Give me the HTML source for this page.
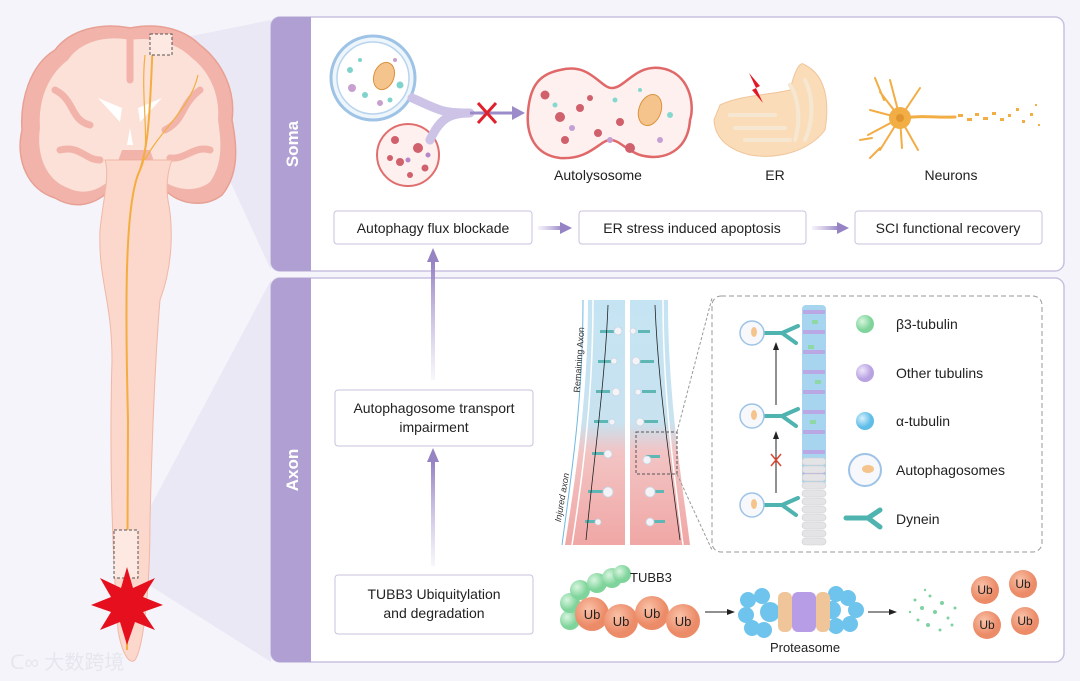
<!DOCTYPE html>
<html><head><meta charset="utf-8"><style>
html,body{margin:0;padding:0;background:#f4f4fa;}
svg{display:block;font-family:"Liberation Sans",Arial,sans-serif;}
</style></head><body>
<svg width="1080" height="681" viewBox="0 0 1080 681" xmlns="http://www.w3.org/2000/svg">
<defs>
<linearGradient id="ax" x1="0" y1="0" x2="0" y2="1">
<stop offset="0" stop-color="#c5e4f3"/><stop offset="0.5" stop-color="#c8e2f0"/><stop offset="0.62" stop-color="#f2c4c4"/><stop offset="1" stop-color="#f0a7a5"/></linearGradient>
<linearGradient id="up" x1="0" y1="1" x2="0" y2="0"><stop offset="0" stop-color="#b8a9d6" stop-opacity="0.1"/><stop offset="1" stop-color="#9583c4"/></linearGradient>
<linearGradient id="rt" x1="0" y1="0" x2="1" y2="0"><stop offset="0" stop-color="#b8a9d6" stop-opacity="0.15"/><stop offset="1" stop-color="#9583c4"/></linearGradient>
<radialGradient id="gr" cx="0.35" cy="0.35"><stop offset="0" stop-color="#d8f5df"/><stop offset="1" stop-color="#7ed49a"/></radialGradient>
<radialGradient id="pu" cx="0.35" cy="0.35"><stop offset="0" stop-color="#eee6fa"/><stop offset="1" stop-color="#b8a2e2"/></radialGradient>
<radialGradient id="bl" cx="0.35" cy="0.35"><stop offset="0" stop-color="#d6f0fc"/><stop offset="1" stop-color="#5fbde8"/></radialGradient>
<radialGradient id="ub" cx="0.4" cy="0.35"><stop offset="0" stop-color="#f9c2a8"/><stop offset="1" stop-color="#ec8b68"/></radialGradient>
</defs>
<rect width="1080" height="681" fill="#f4f4fa"/>
<polygon points="172,40 271,20 271,270 172,55" fill="#e4e0f2" opacity="0.6"/>
<polygon points="138,530 271,280 271,662 138,578" fill="#e4e0f2" opacity="0.6"/>
<!-- brain -->
<path d="M130,28 C100,22 70,30 55,50 C30,65 20,100 22,130 C15,160 28,190 55,198 C75,210 95,205 110,190 L120,160 L150,160 L165,190 C180,205 205,208 222,195 C238,175 238,150 232,120 C236,90 222,62 200,45 C185,30 160,22 130,28 Z" fill="#f2b4aa" stroke="#e8a094" stroke-width="1.5"/>
<path d="M130,40 C105,35 80,42 68,60 C48,75 38,100 40,128 C36,155 46,180 68,188 C85,196 100,190 112,178 L122,150 L150,150 L160,178 C175,192 198,192 210,182 C222,165 222,145 218,120 C220,95 210,72 192,58 C178,44 155,36 130,40 Z" fill="#fbe1d8"/>
<path d="M55,90 C75,100 70,120 90,125 M200,90 C180,105 185,120 165,130 M60,150 C80,145 85,160 100,160 M210,150 C195,145 185,160 170,158 M130,40 L130,80" stroke="#f2b4aa" stroke-width="7" fill="none" stroke-linecap="round"/>
<path d="M98,98 L122,108 L120,122 Z M162,98 L138,108 L140,122 Z M130,128 L127,145 L133,145 Z" fill="#fff"/>
<path d="M105,160 C110,175 103,200 100,230 C98,280 112,300 112,360 C110,430 110,520 118,630 C122,655 130,665 135,660 C142,650 150,600 150,520 C152,440 155,360 160,300 C175,260 172,220 168,200 C165,180 170,165 172,160 Z" fill="#fbd7cc" stroke="#f0b7a6" stroke-width="1"/>
<path d="M153,40 C150,100 150,140 140,170 C125,200 125,300 128,420 C128,520 127,600 127,650" stroke="#f4ae3f" stroke-width="2" fill="none"/>
<path d="M145,55 C140,100 152,150 140,170" stroke="#f4ae3f" stroke-width="1.2" fill="none"/>
<path d="M198,75 C190,110 160,130 145,160" stroke="#f4ae3f" stroke-width="1.2" fill="none"/>
<rect x="150" y="34" width="22" height="21" fill="#fde8e2" stroke="#555" stroke-width="1" stroke-dasharray="3,2"/>
<rect x="114" y="530" width="24" height="48" fill="#fde8e2" stroke="#555" stroke-width="1" stroke-dasharray="3,2"/>
<polygon points="127,567 133,588 155,578 143,597 163,605 143,612 155,630 135,622 127,645 120,622 100,630 111,612 91,605 111,597 100,578 121,588" fill="#e50f1e"/>
<text x="10" y="669" font-size="20" fill="#e6e6ee" font-family="'Liberation Sans','Noto Sans CJK SC',sans-serif">ᑕ∞ 大数跨境</text>
<!-- Soma panel -->
<rect x="271" y="17" width="793" height="254" rx="9" fill="#fff" stroke="#c8c0e0" stroke-width="1.5"/>
<path d="M280,17 H311 V271 H280 A9,9 0 0 1 271,262 V26 A9,9 0 0 1 280,17 Z" fill="#af9fd2"/>
<text x="298" y="144" font-size="17" font-weight="bold" fill="#fff" text-anchor="middle" transform="rotate(-90 298 144)">Soma</text>
<rect x="271" y="278" width="793" height="384" rx="9" fill="#fff" stroke="#c8c0e0" stroke-width="1.5"/>
<path d="M280,278 H311 V662 H280 A9,9 0 0 1 271,653 V287 A9,9 0 0 1 280,278 Z" fill="#af9fd2"/>
<text x="298" y="470" font-size="17" font-weight="bold" fill="#fff" text-anchor="middle" transform="rotate(-90 298 470)">Axon</text>
<!-- soma illustrations -->
<circle cx="373" cy="78" r="42" fill="#eef6fc" stroke="#9ec3e6" stroke-width="3"/>
<circle cx="373" cy="78" r="36" fill="#fff" stroke="#b9d4ee" stroke-width="1.5"/>
<ellipse cx="384" cy="76" rx="10" ry="14" fill="#f5c48c" stroke="#d9923c" transform="rotate(20 384 76)"/>
<g fill="#7fd3cc"><circle cx="350" cy="70" r="3"/><circle cx="365" cy="95" r="3"/><circle cx="400" cy="85" r="3.5"/><circle cx="360" cy="60" r="2"/><circle cx="390" cy="100" r="2.5"/></g>
<g fill="#c8a0d0"><circle cx="352" cy="88" r="4"/><circle cx="380" cy="103" r="3"/><circle cx="395" cy="60" r="2"/></g>
<circle cx="408" cy="155" r="31" fill="#fdf0ee" stroke="#e06e6e" stroke-width="2"/>
<g fill="#d0606c"><circle cx="395" cy="140" r="4"/><circle cx="418" cy="148" r="5"/><circle cx="400" cy="162" r="4"/><circle cx="425" cy="168" r="3.5"/><circle cx="410" cy="175" r="3"/><circle cx="390" cy="158" r="3"/></g>
<g fill="#b786c8"><circle cx="408" cy="160" r="2.5"/><circle cx="428" cy="155" r="2.5"/></g>
<path d="M412,98 C440,110 440,113 470,113 M430,140 C440,118 450,113 470,113" stroke="#cdc3e6" stroke-width="9" fill="none" stroke-linecap="round"/>
<path d="M470,113 H515" stroke="#9b8bc8" stroke-width="3"/><polygon points="525,113 512,106 512,120" fill="#9b8bc8"/>
<path d="M478,103 L496,123 M496,103 L478,123" stroke="#e0202c" stroke-width="3"/>
<path d="M560,70 C590,62 600,88 612,88 C625,88 635,65 660,68 C690,72 695,105 690,120 C688,150 665,162 640,155 C625,150 620,140 610,140 C600,140 590,160 560,158 C535,155 526,135 528,112 C530,85 540,74 560,70 Z" fill="#fdf0ee" stroke="#e06868" stroke-width="2.5"/>
<ellipse cx="650" cy="110" rx="11" ry="16" fill="#f5c48c" stroke="#d9923c" transform="rotate(20 650 110)"/>
<g fill="#d0606c"><circle cx="545" cy="95" r="4.5"/><circle cx="560" cy="117" r="5"/><circle cx="580" cy="108" r="4"/><circle cx="598" cy="133" r="4"/><circle cx="620" cy="122" r="4"/><circle cx="565" cy="140" r="4"/><circle cx="630" cy="148" r="5"/><circle cx="590" cy="98" r="3"/></g>
<g fill="#85d8d0"><circle cx="555" cy="105" r="2.5"/><circle cx="615" cy="100" r="2.5"/><circle cx="670" cy="115" r="3"/><circle cx="640" cy="90" r="2"/></g>
<g fill="#c5a0d5"><circle cx="572" cy="128" r="3"/><circle cx="610" cy="140" r="3"/><circle cx="660" cy="140" r="3"/></g>
<text x="598" y="180" font-size="14" text-anchor="middle" fill="#222">Autolysosome</text>
<path d="M720,105 C740,95 770,95 790,90 C795,70 800,60 805,65 C825,75 830,100 825,130 C810,150 780,160 750,155 C730,150 715,140 714,120 Z" fill="#fbdcb8" stroke="#f0c59a"/>
<path d="M730,115 H775 M735,128 H785 M745,140 H790 M790,85 C800,100 800,125 795,140 M805,80 C815,100 812,125 805,140" stroke="#f6e7d2" stroke-width="4" fill="none" stroke-linecap="round"/>
<polygon points="749,73 760,86 756,88 763,103 752,90 756,88" fill="#e41725"/>
<text x="775" y="180" font-size="14" text-anchor="middle" fill="#222">ER</text>
<g stroke="#f2ad45" stroke-width="2" fill="none" stroke-linecap="round">
<path d="M900,118 L880,92 M900,118 L870,110 M900,118 L868,135 M900,118 L880,150 M900,118 L902,148 M900,118 L918,150 M900,118 L890,80 M900,118 L920,88 M884,100 L875,78 M872,138 L860,140 M880,148 L870,158"/>
<path d="M905,118 C925,115 935,118 955,117" stroke-width="3"/>
</g>
<circle cx="900" cy="118" r="11" fill="#f2ad45"/><circle cx="900" cy="118" r="4" fill="#e09530"/>
<g fill="#f2ad45"><rect x="958" y="114" width="5" height="3"/><rect x="967" y="118" width="5" height="3"/><rect x="975" y="113" width="4" height="3"/><rect x="983" y="117" width="5" height="3"/><rect x="992" y="112" width="4" height="3"/><rect x="1000" y="118" width="4" height="3"/><rect x="1008" y="114" width="3" height="3"/><rect x="1016" y="108" width="3" height="3"/><rect x="1022" y="120" width="3" height="3"/><rect x="1030" y="113" width="3" height="3"/><rect x="1035" y="104" width="2" height="2"/><rect x="1038" y="124" width="2" height="2"/></g>
<text x="951" y="180" font-size="14" text-anchor="middle" fill="#222">Neurons</text>
<rect x="334" y="211" width="198" height="33" rx="3" fill="#fff" stroke="#c9c2dc"/>
<text x="433" y="233" font-size="14" text-anchor="middle" fill="#222">Autophagy flux blockade</text>
<rect x="579" y="211" width="227" height="33" rx="3" fill="#fff" stroke="#c9c2dc"/>
<text x="692" y="233" font-size="14" text-anchor="middle" fill="#222">ER stress induced apoptosis</text>
<rect x="855" y="211" width="187" height="33" rx="3" fill="#fff" stroke="#c9c2dc"/>
<text x="948" y="233" font-size="14" text-anchor="middle" fill="#222">SCI functional recovery</text>
<rect x="538" y="226" width="25" height="4" fill="url(#rt)"/><polygon points="572,228 560,222 560,234" fill="#9583c4"/>
<rect x="812" y="226" width="27" height="4" fill="url(#rt)"/><polygon points="849,228 837,222 837,234" fill="#9583c4"/>
<rect x="431" y="262" width="4" height="118" fill="url(#up)"/><polygon points="433,248 427,262 439,262" fill="#9583c4"/>
<rect x="431" y="462" width="4" height="104" fill="url(#up)"/><polygon points="433,448 427,462 439,462" fill="#9583c4"/>
<rect x="335" y="390" width="198" height="56" rx="3" fill="#fff" stroke="#c9c2dc"/>
<text x="434" y="413" font-size="14" text-anchor="middle" fill="#222">Autophagosome transport</text>
<text x="434" y="432" font-size="14" text-anchor="middle" fill="#222">impairment</text>
<rect x="335" y="575" width="198" height="59" rx="3" fill="#fff" stroke="#c9c2dc"/>
<text x="434" y="599" font-size="14" text-anchor="middle" fill="#222">TUBB3 Ubiquitylation</text>
<text x="434" y="618" font-size="14" text-anchor="middle" fill="#222">and degradation</text>
<!-- axon strips -->
<path d="M588,300 H625 V545 H565 C575,480 588,400 588,300 Z" fill="url(#ax)"/>
<path d="M630,300 H668 C668,400 682,480 690,545 H630 Z" fill="url(#ax)"/>
<path d="M593,300 C593,400 582,480 572,545 M663,300 C663,400 675,480 683,545" stroke="#fff" stroke-width="1.5" fill="none"/>
<path d="M583,300 C583,400 572,470 562,545" stroke="#6fb8e0" stroke-width="1" fill="none"/>
<g fill="#5fb7b5">
<rect x="600" y="330" width="14" height="3"/><rect x="598" y="360" width="14" height="3"/><rect x="596" y="390" width="14" height="3"/><rect x="594" y="420" width="14" height="3"/><rect x="592" y="452" width="14" height="3"/><rect x="588" y="490" width="16" height="3"/><rect x="585" y="520" width="12" height="3"/>
<rect x="638" y="330" width="12" height="3"/><rect x="640" y="360" width="14" height="3"/><rect x="642" y="390" width="14" height="3"/><rect x="644" y="420" width="14" height="3"/><rect x="646" y="455" width="14" height="3"/><rect x="650" y="490" width="14" height="3"/><rect x="653" y="520" width="12" height="3"/>
</g>
<g fill="#f4f4f8" stroke="#c9d5e2" stroke-width="0.8">
<circle cx="618" cy="331" r="4"/><circle cx="614" cy="361" r="3"/><circle cx="616" cy="392" r="4"/><circle cx="612" cy="422" r="3"/><circle cx="608" cy="454" r="4"/><circle cx="608" cy="492" r="5"/><circle cx="598" cy="522" r="3"/>
<circle cx="633" cy="331" r="3"/><circle cx="636" cy="361" r="4"/><circle cx="638" cy="392" r="3"/><circle cx="640" cy="422" r="4"/><circle cx="647" cy="460" r="4"/><circle cx="650" cy="492" r="5"/><circle cx="650" cy="522" r="4"/>
</g>
<path d="M586,540 C595,450 605,380 608,305 M680,540 C668,450 658,380 655,305" stroke="#222" stroke-width="0.8" fill="none"/>
<text x="582" y="360" font-size="9" fill="#333" text-anchor="middle" transform="rotate(-86 582 360)">Remaining Axon</text>
<text x="565" y="498" font-size="9" font-style="italic" fill="#333" text-anchor="middle" transform="rotate(-80 565 498)">Injured axon</text>
<rect x="636" y="432" width="41" height="42" fill="none" stroke="#555" stroke-dasharray="3,2"/>
<path d="M677,432 L712,298 M677,474 L712,550" stroke="#999" stroke-dasharray="3,2"/>
<rect x="712" y="296" width="330" height="256" rx="9" fill="#fff" stroke="#999" stroke-dasharray="5,3"/>
<rect x="802" y="305" width="24" height="180" rx="4" fill="#a7d4ee"/>
<g fill="#b9a8e4"><rect x="803" y="310" width="22" height="4"/><rect x="803" y="330" width="22" height="4"/><rect x="803" y="350" width="22" height="4"/><rect x="803" y="370" width="22" height="4"/><rect x="803" y="390" width="22" height="4"/><rect x="803" y="410" width="22" height="4"/><rect x="803" y="430" width="22" height="4"/><rect x="803" y="450" width="22" height="4"/><rect x="803" y="470" width="22" height="4"/></g>
<g fill="#8ed8a5"><rect x="812" y="320" width="6" height="4"/><rect x="808" y="345" width="6" height="4"/><rect x="815" y="380" width="6" height="4"/><rect x="810" y="420" width="6" height="4"/><rect x="816" y="460" width="6" height="4"/></g>
<g fill="#e4e4e6" stroke="#cfcfd3" stroke-width="0.6">
<rect x="802" y="458" width="24" height="7" rx="3.5"/><rect x="802" y="466" width="24" height="7" rx="3.5"/><rect x="802" y="474" width="24" height="7" rx="3.5"/><rect x="802" y="482" width="24" height="7" rx="3.5"/><rect x="802" y="490" width="24" height="7" rx="3.5"/><rect x="802" y="498" width="24" height="7" rx="3.5"/><rect x="802" y="506" width="24" height="7" rx="3.5"/><rect x="802" y="514" width="24" height="7" rx="3.5"/><rect x="802" y="522" width="24" height="7" rx="3.5"/><rect x="802" y="530" width="24" height="7" rx="3.5"/><rect x="802" y="538" width="24" height="7" rx="3.5"/></g>
<g stroke="#4fb3b0" stroke-width="4" fill="none" stroke-linecap="round">
<path d="M762,333 H782 M782,333 L798,326 M782,333 L796,343"/>
<path d="M762,416 H782 M782,416 L798,409 M782,416 L796,426"/>
<path d="M762,505 H782 M782,505 L798,498 M782,505 L796,515"/>
</g>
<g fill="#f6f8fc" stroke="#9ec3e6" stroke-width="1.5">
<circle cx="752" cy="333" r="12"/><circle cx="752" cy="416" r="12"/><circle cx="752" cy="505" r="12"/></g>
<g fill="#f5c48c"><ellipse cx="754" cy="332" rx="3" ry="5"/><ellipse cx="754" cy="415" rx="3" ry="5"/><ellipse cx="754" cy="504" rx="3" ry="5"/></g>
<path d="M776,493 V438 M776,405 V348" stroke="#222" stroke-width="1"/>
<polygon points="776,431 773,439 779,439" fill="#222"/><polygon points="776,342 773,350 779,350" fill="#222"/>
<path d="M771,454 L781,466 M781,454 L771,466" stroke="#e0462e" stroke-width="1.5"/>
<circle cx="865" cy="324" r="9" fill="url(#gr)"/><text x="896" y="329" font-size="14" fill="#222">β3-tubulin</text>
<circle cx="865" cy="373" r="9" fill="url(#pu)"/><text x="896" y="378" font-size="14" fill="#222">Other tubulins</text>
<circle cx="865" cy="421" r="9" fill="url(#bl)"/><text x="896" y="426" font-size="14" fill="#222">α-tubulin</text>
<circle cx="865" cy="470" r="16" fill="#f6f8fc" stroke="#9ec3e6" stroke-width="2"/><ellipse cx="868" cy="469" rx="6" ry="4" fill="#f5c48c"/>
<text x="896" y="475" font-size="14" fill="#222">Autophagosomes</text>
<path d="M846,518 H868 M868,518 L880,510 M868,518 L880,527" stroke="#4fb3b0" stroke-width="5" stroke-linecap="round" fill="none"/>
<text x="896" y="524" font-size="14" fill="#222">Dynein</text>
<g fill="url(#gr)"><circle cx="570" cy="620" r="10"/><circle cx="570" cy="603" r="10"/><circle cx="580" cy="590" r="10"/><circle cx="597" cy="583" r="10"/><circle cx="612" cy="578" r="10"/><circle cx="622" cy="574" r="9"/></g>
<text x="630" y="582" font-size="13" fill="#222">TUBB3</text>
<g fill="url(#ub)"><circle cx="592" cy="614" r="17"/><circle cx="621" cy="621" r="17"/><circle cx="652" cy="613" r="17"/><circle cx="683" cy="621" r="17"/></g>
<g font-size="13" fill="#222" text-anchor="middle"><text x="592" y="619">Ub</text><text x="621" y="626">Ub</text><text x="652" y="618">Ub</text><text x="683" y="626">Ub</text></g>
<path d="M705,612 H728" stroke="#222"/><polygon points="735,612 727,609 727,615" fill="#222"/>
<g fill="#6ec4ec"><circle cx="748" cy="600" r="8"/><circle cx="746" cy="615" r="8"/><circle cx="752" cy="628" r="8"/><circle cx="762" cy="596" r="8"/><circle cx="764" cy="630" r="8"/><circle cx="770" cy="612" r="10"/>
<circle cx="836" cy="594" r="8"/><circle cx="848" cy="598" r="8"/><circle cx="856" cy="610" r="8"/><circle cx="850" cy="624" r="8"/><circle cx="836" cy="626" r="8"/><circle cx="832" cy="610" r="9"/></g>
<rect x="778" y="592" width="14" height="40" rx="6" fill="#f0c59a"/><rect x="792" y="592" width="24" height="40" rx="6" fill="#b79de6"/><rect x="816" y="592" width="14" height="40" rx="6" fill="#f0c59a"/>
<text x="805" y="652" font-size="13" text-anchor="middle" fill="#222">Proteasome</text>
<path d="M868,612 H890" stroke="#222"/><polygon points="897,612 889,609 889,615" fill="#222"/>
<g fill="#7dd3a0"><circle cx="915" cy="600" r="1.5"/><circle cx="922" cy="608" r="2"/><circle cx="930" cy="596" r="1.5"/><circle cx="935" cy="612" r="2"/><circle cx="918" cy="620" r="1.5"/><circle cx="942" cy="603" r="2"/><circle cx="948" cy="618" r="1.5"/><circle cx="928" cy="625" r="2"/><circle cx="940" cy="630" r="1.5"/><circle cx="955" cy="608" r="1.5"/><circle cx="910" cy="612" r="1.2"/><circle cx="925" cy="590" r="1.2"/><circle cx="952" cy="625" r="1.5"/></g>
<g fill="url(#ub)"><circle cx="985" cy="590" r="14"/><circle cx="1023" cy="584" r="14"/><circle cx="987" cy="625" r="14"/><circle cx="1025" cy="621" r="14"/></g>
<g font-size="12" fill="#222" text-anchor="middle"><text x="985" y="594">Ub</text><text x="1023" y="588">Ub</text><text x="987" y="629">Ub</text><text x="1025" y="625">Ub</text></g>
</svg>
</body></html>
